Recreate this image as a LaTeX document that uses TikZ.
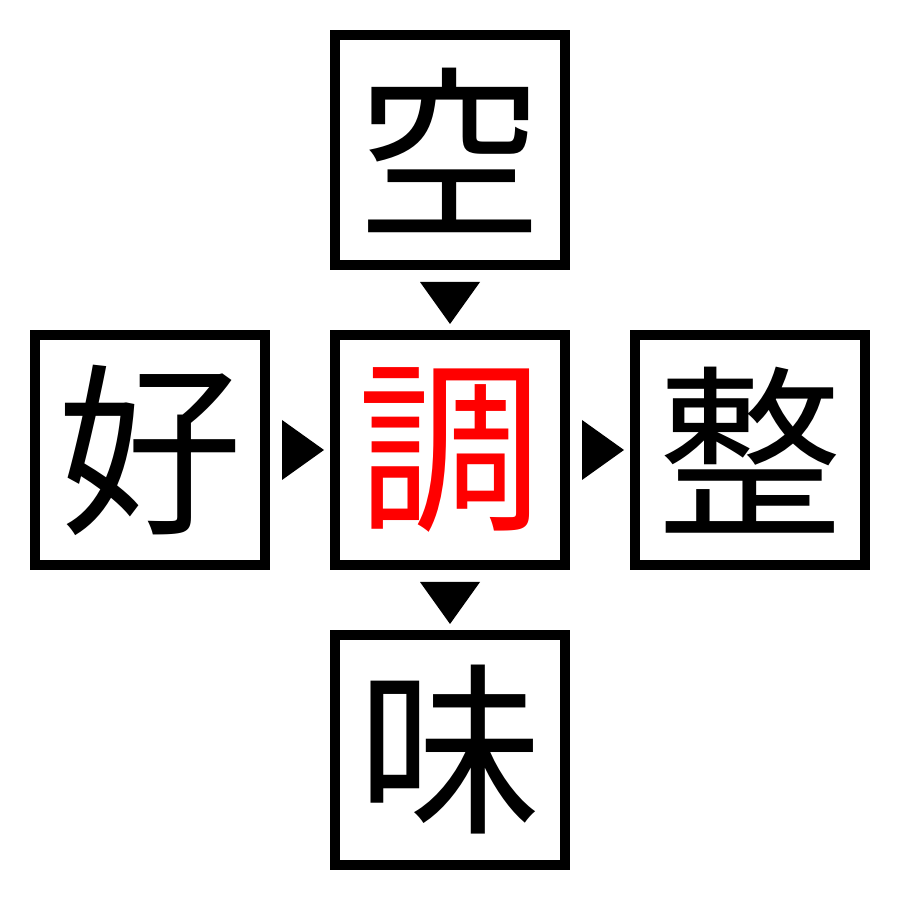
\documentclass[tikz,border=0pt]{standalone}
\usepackage{fontspec}
\newfontfamily\cjk{Noto Sans CJK JP}
\usetikzlibrary{calc}
\tikzset{
  kbox/.style={draw=black, line width=10pt, minimum size=230pt, inner sep=0pt, font=\cjk\fontsize{185pt}{185pt}\selectfont},
  tri/.style={fill=black}
}
\begin{document}
\begin{tikzpicture}[x=1pt,y=1pt]
\useasboundingbox (0,0) rectangle (900,900);
\node[kbox] (top) at (450,750) {空};
\node[kbox] (left) at (150,450) {好};
\node[kbox, text=red] (mid) at (450,450) {調};
\node[kbox] (right) at (750,450) {整};
\node[kbox] (bot) at (450,150) {味};
% down arrows
\fill[tri] ($(top.south)+(-30,-12)$) -- ($(top.south)+(30,-12)$) -- ($(top.south)+(0,-54)$) -- cycle;
\fill[tri] ($(mid.south)+(-30,-12)$) -- ($(mid.south)+(30,-12)$) -- ($(mid.south)+(0,-54)$) -- cycle;
% right arrows
\fill[tri] ($(left.east)+(12,30)$) -- ($(left.east)+(12,-30)$) -- ($(left.east)+(54,0)$) -- cycle;
\fill[tri] ($(mid.east)+(12,30)$) -- ($(mid.east)+(12,-30)$) -- ($(mid.east)+(54,0)$) -- cycle;
\end{tikzpicture}
\end{document}
